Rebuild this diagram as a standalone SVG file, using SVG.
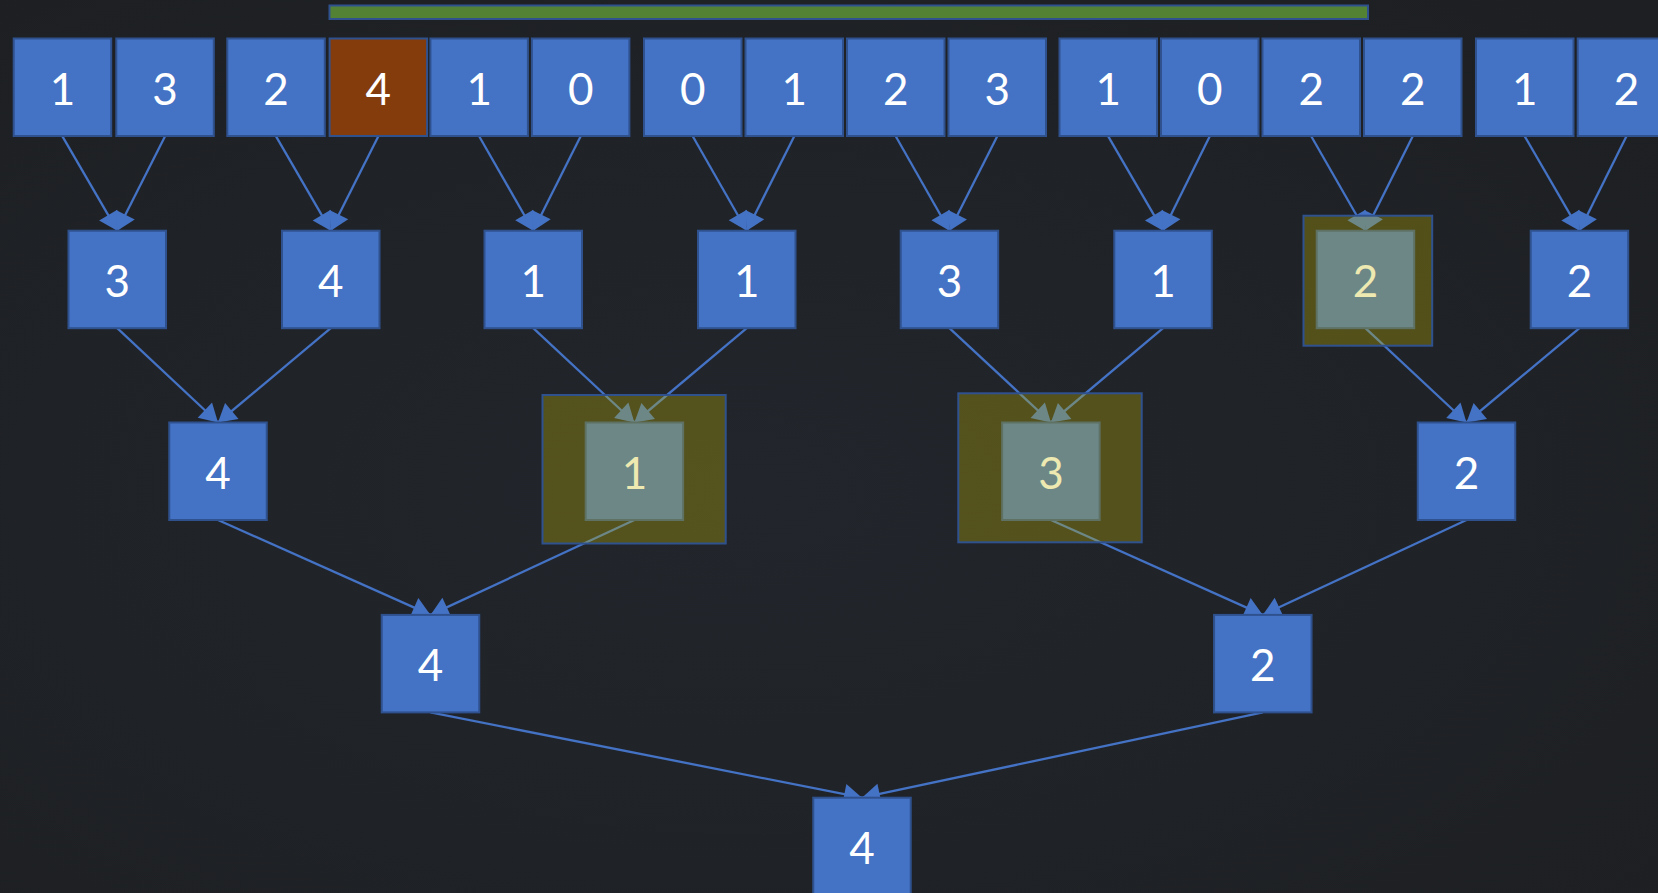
<svg xmlns="http://www.w3.org/2000/svg" width="1658" height="893" viewBox="0 0 1658 893">
  <defs>
    <radialGradient id="bg" cx="45%" cy="55%" r="75%">
      <stop offset="0" stop-color="#22262c"/>
      <stop offset="1" stop-color="#1d1f22"/>
    </radialGradient>
    <marker id="head" markerUnits="userSpaceOnUse" markerWidth="19" markerHeight="22" refX="18" refY="11" orient="auto" overflow="visible">
      <path d="M0,0.5 L18,11 L0,21.5 z" fill="#4472C4"/>
    </marker>
    <style>
      .box { fill: #4472C4; stroke: #2F528F; stroke-width: 2; }
      .hot { fill: #843C0C; stroke: #2F528F; stroke-width: 2; }
      .bar { fill: #548235; stroke: #2F528F; stroke-width: 2; }
      .num { font-family: Lato, "Open Sans", "DejaVu Sans", sans-serif; font-size: 44px; fill: #FFFFFF; text-anchor: middle; }
      .edge { stroke: #4472C4; stroke-width: 2.3; fill: none; marker-end: url(#head); }
      .mark { fill: rgb(200,185,0); fill-opacity: 0.31; stroke: #2F528F; stroke-width: 2; }
    </style>
  </defs>

  <rect x="0" y="0" width="1658" height="893" fill="url(#bg)"/>

  <!-- progress bar -->
  <rect id="bar" class="bar" x="329.5" y="5.5" width="1038.5" height="13.5"/>

  <!-- connectors -->
  <g id="connectors">
    <!-- leaves to level 2 -->
    <line class="edge" x1="62.45" y1="136.3" x2="117.25" y2="230.7"/>
    <line class="edge" x1="165.05" y1="136.3" x2="117.25" y2="230.7"/>
    <line class="edge" x1="276.05" y1="136.3" x2="330.75" y2="230.7"/>
    <line class="edge" x1="378.35" y1="136.3" x2="330.75" y2="230.7"/>
    <line class="edge" x1="479.15" y1="136.3" x2="533.25" y2="230.7"/>
    <line class="edge" x1="580.65" y1="136.3" x2="533.25" y2="230.7"/>
    <line class="edge" x1="692.75" y1="136.3" x2="746.75" y2="230.7"/>
    <line class="edge" x1="794.25" y1="136.3" x2="746.75" y2="230.7"/>
    <line class="edge" x1="895.75" y1="136.3" x2="949.45" y2="230.7"/>
    <line class="edge" x1="997.25" y1="136.3" x2="949.45" y2="230.7"/>
    <line class="edge" x1="1108.25" y1="136.3" x2="1163.05" y2="230.7"/>
    <line class="edge" x1="1209.75" y1="136.3" x2="1163.05" y2="230.7"/>
    <line class="edge" x1="1311.25" y1="136.3" x2="1365.45" y2="230.7"/>
    <line class="edge" x1="1412.75" y1="136.3" x2="1365.45" y2="230.7"/>
    <line class="edge" x1="1524.75" y1="136.3" x2="1579.45" y2="230.7"/>
    <line class="edge" x1="1626.45" y1="136.3" x2="1579.45" y2="230.7"/>
    <!-- level 2 to level 3 -->
    <line class="edge" x1="117.25" y1="328.2" x2="218" y2="422.5"/>
    <line class="edge" x1="330.75" y1="328.2" x2="218" y2="422.5"/>
    <line class="edge" x1="533.25" y1="328.2" x2="634.4" y2="422.5"/>
    <line class="edge" x1="746.75" y1="328.2" x2="634.4" y2="422.5"/>
    <line class="edge" x1="949.45" y1="328.2" x2="1050.9" y2="422.5"/>
    <line class="edge" x1="1163.05" y1="328.2" x2="1050.9" y2="422.5"/>
    <line class="edge" x1="1365.45" y1="328.2" x2="1466.5" y2="422.5"/>
    <line class="edge" x1="1579.45" y1="328.2" x2="1466.5" y2="422.5"/>
    <!-- level 3 to level 4 -->
    <line class="edge" x1="218" y1="520" x2="430.5" y2="614.9"/>
    <line class="edge" x1="634.4" y1="520" x2="430.5" y2="614.9"/>
    <line class="edge" x1="1050.9" y1="520" x2="1262.8" y2="614.9"/>
    <line class="edge" x1="1466.5" y1="520" x2="1262.8" y2="614.9"/>
    <!-- level 4 to root -->
    <line class="edge" x1="430.5" y1="712.4" x2="862" y2="797.7"/>
    <line class="edge" x1="1262.8" y1="712.4" x2="862" y2="797.7"/>
  </g>

  <!-- leaves -->
  <g id="leaf-0"><rect class="box" x="13.7" y="38.5" width="97.5" height="97.5"/><text class="num" x="62.45" y="104.5">1</text></g>
  <g id="leaf-1"><rect class="box" x="116.3" y="38.5" width="97.5" height="97.5"/><text class="num" x="165.05" y="104.5">3</text></g>
  <g id="leaf-2"><rect class="box" x="227.3" y="38.5" width="97.5" height="97.5"/><text class="num" x="276.05" y="104.5">2</text></g>
  <g id="leaf-3"><rect class="hot" x="329.6" y="38.5" width="97.5" height="97.5"/><text class="num" x="378.35" y="104.5">4</text></g>
  <g id="leaf-4"><rect class="box" x="430.4" y="38.5" width="97.5" height="97.5"/><text class="num" x="479.15" y="104.5">1</text></g>
  <g id="leaf-5"><rect class="box" x="531.9" y="38.5" width="97.5" height="97.5"/><text class="num" x="580.65" y="104.5">0</text></g>
  <g id="leaf-6"><rect class="box" x="644" y="38.5" width="97.5" height="97.5"/><text class="num" x="692.75" y="104.5">0</text></g>
  <g id="leaf-7"><rect class="box" x="745.5" y="38.5" width="97.5" height="97.5"/><text class="num" x="794.25" y="104.5">1</text></g>
  <g id="leaf-8"><rect class="box" x="847" y="38.5" width="97.5" height="97.5"/><text class="num" x="895.75" y="104.5">2</text></g>
  <g id="leaf-9"><rect class="box" x="948.5" y="38.5" width="97.5" height="97.5"/><text class="num" x="997.25" y="104.5">3</text></g>
  <g id="leaf-10"><rect class="box" x="1059.5" y="38.5" width="97.5" height="97.5"/><text class="num" x="1108.25" y="104.5">1</text></g>
  <g id="leaf-11"><rect class="box" x="1161" y="38.5" width="97.5" height="97.5"/><text class="num" x="1209.75" y="104.5">0</text></g>
  <g id="leaf-12"><rect class="box" x="1262.5" y="38.5" width="97.5" height="97.5"/><text class="num" x="1311.25" y="104.5">2</text></g>
  <g id="leaf-13"><rect class="box" x="1364" y="38.5" width="97.5" height="97.5"/><text class="num" x="1412.75" y="104.5">2</text></g>
  <g id="leaf-14"><rect class="box" x="1476" y="38.5" width="97.5" height="97.5"/><text class="num" x="1524.75" y="104.5">1</text></g>
  <g id="leaf-15"><rect class="box" x="1577.7" y="38.5" width="97.5" height="97.5"/><text class="num" x="1626.45" y="104.5">2</text></g>

  <!-- level 2 -->
  <g id="l2-0"><rect class="box" x="68.5" y="230.7" width="97.5" height="97.5"/><text class="num" x="117.25" y="296.7">3</text></g>
  <g id="l2-1"><rect class="box" x="282" y="230.7" width="97.5" height="97.5"/><text class="num" x="330.75" y="296.7">4</text></g>
  <g id="l2-2"><rect class="box" x="484.5" y="230.7" width="97.5" height="97.5"/><text class="num" x="533.25" y="296.7">1</text></g>
  <g id="l2-3"><rect class="box" x="698" y="230.7" width="97.5" height="97.5"/><text class="num" x="746.75" y="296.7">1</text></g>
  <g id="l2-4"><rect class="box" x="900.7" y="230.7" width="97.5" height="97.5"/><text class="num" x="949.45" y="296.7">3</text></g>
  <g id="l2-5"><rect class="box" x="1114.3" y="230.7" width="97.5" height="97.5"/><text class="num" x="1163.05" y="296.7">1</text></g>
  <g id="l2-6"><rect class="box" x="1316.7" y="230.7" width="97.5" height="97.5"/><text class="num" x="1365.45" y="296.7">2</text></g>
  <g id="l2-7"><rect class="box" x="1530.7" y="230.7" width="97.5" height="97.5"/><text class="num" x="1579.45" y="296.7">2</text></g>

  <!-- level 3 -->
  <g id="l3-0"><rect class="box" x="169.25" y="422.5" width="97.5" height="97.5"/><text class="num" x="218" y="488.5">4</text></g>
  <g id="l3-1"><rect class="box" x="585.65" y="422.5" width="97.5" height="97.5"/><text class="num" x="634.4" y="488.5">1</text></g>
  <g id="l3-2"><rect class="box" x="1002.15" y="422.5" width="97.5" height="97.5"/><text class="num" x="1050.9" y="488.5">3</text></g>
  <g id="l3-3"><rect class="box" x="1417.75" y="422.5" width="97.5" height="97.5"/><text class="num" x="1466.5" y="488.5">2</text></g>

  <!-- level 4 -->
  <g id="l4-0"><rect class="box" x="381.75" y="614.9" width="97.5" height="97.5"/><text class="num" x="430.5" y="680.9">4</text></g>
  <g id="l4-1"><rect class="box" x="1214.05" y="614.9" width="97.5" height="97.5"/><text class="num" x="1262.8" y="680.9">2</text></g>

  <!-- root -->
  <g id="root"><rect class="box" x="813.25" y="797.7" width="97.5" height="97.5"/><text class="num" x="862" y="863.7">4</text></g>

  <!-- translucent highlight frames -->
  <g id="highlights">
    <rect id="mark-l2-6" class="mark" x="1303.5" y="215.7" width="128.7" height="130"/>
    <rect id="mark-l3-1" class="mark" x="542.5" y="395" width="183.2" height="148.5"/>
    <rect id="mark-l3-2" class="mark" x="958.3" y="393.3" width="183.4" height="149"/>
  </g>
</svg>
